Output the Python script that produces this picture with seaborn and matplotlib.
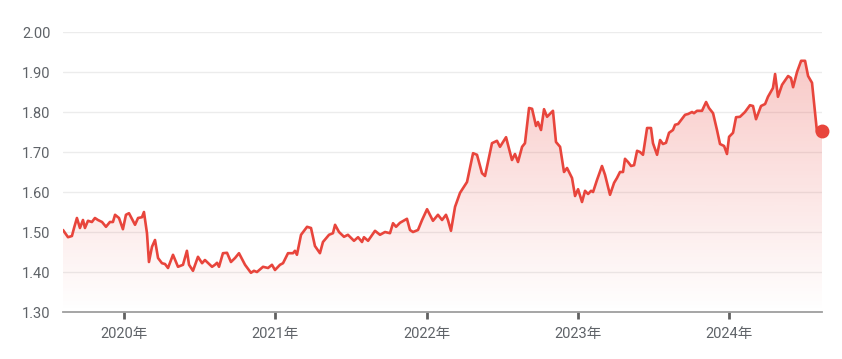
import numpy as np
import pandas as pd
import matplotlib
matplotlib.use("Agg")
import matplotlib.pyplot as plt
import seaborn as sns
from matplotlib.colors import LinearSegmentedColormap

# ---- data (decimal year, value) ----
years = [
    2019.597, 2019.630, 2019.656, 2019.670, 2019.689, 2019.709, 2019.729, 2019.742, 2019.762, 2019.788,
    2019.808, 2019.828, 2019.855, 2019.881, 2019.907, 2019.927, 2019.941, 2019.967, 2019.993, 2020.013,
    2020.033, 2020.073, 2020.093, 2020.119, 2020.132, 2020.152, 2020.165, 2020.185, 2020.205, 2020.225,
    2020.251, 2020.271, 2020.291, 2020.324, 2020.357, 2020.390, 2020.416, 2020.430, 2020.456, 2020.489,
    2020.516, 2020.535, 2020.582, 2020.601, 2020.615, 2020.628, 2020.654, 2020.681, 2020.707, 2020.734,
    2020.760, 2020.800, 2020.839, 2020.859, 2020.879, 2020.919, 2020.952, 2020.978, 2020.998, 2021.031,
    2021.051, 2021.084, 2021.117, 2021.130, 2021.143, 2021.170, 2021.210, 2021.236, 2021.262, 2021.295,
    2021.315, 2021.355, 2021.381, 2021.395, 2021.421, 2021.454, 2021.480, 2021.520, 2021.547, 2021.573,
    2021.586, 2021.613, 2021.659, 2021.692, 2021.725, 2021.758, 2021.778, 2021.798, 2021.824, 2021.870,
    2021.890, 2021.910, 2021.943, 2021.970, 2022.003, 2022.042, 2022.075, 2022.102, 2022.128, 2022.141,
    2022.161, 2022.188, 2022.221, 2022.267, 2022.307, 2022.333, 2022.366, 2022.386, 2022.432, 2022.465,
    2022.485, 2022.525, 2022.564, 2022.584, 2022.604, 2022.631, 2022.650, 2022.677, 2022.697, 2022.723,
    2022.736, 2022.756, 2022.776, 2022.796, 2022.835, 2022.855, 2022.882, 2022.908, 2022.928, 2022.961,
    2022.981, 2023.001, 2023.027, 2023.047, 2023.067, 2023.087, 2023.100, 2023.126, 2023.159, 2023.179,
    2023.212, 2023.239, 2023.258, 2023.278, 2023.298, 2023.311, 2023.331, 2023.351, 2023.371, 2023.391,
    2023.410, 2023.430, 2023.457, 2023.483, 2023.496, 2023.523, 2023.543, 2023.562, 2023.582, 2023.602,
    2023.628, 2023.642, 2023.662, 2023.688, 2023.708, 2023.728, 2023.754, 2023.767, 2023.787, 2023.820,
    2023.847, 2023.866, 2023.893, 2023.919, 2023.939, 2023.966, 2023.985, 2023.999, 2024.025, 2024.045,
    2024.071, 2024.104, 2024.137, 2024.157, 2024.177, 2024.210, 2024.237, 2024.256, 2024.289, 2024.303,
    2024.322, 2024.349, 2024.389, 2024.408, 2024.422, 2024.448, 2024.475, 2024.501, 2024.521, 2024.547,
    2024.580, 2024.613,
]
values = [
    1.505, 1.487, 1.490, 1.510, 1.535, 1.510, 1.530, 1.510, 1.528, 1.525,
    1.535, 1.530, 1.525, 1.513, 1.525, 1.525, 1.543, 1.535, 1.507, 1.543,
    1.547, 1.518, 1.535, 1.537, 1.550, 1.497, 1.425, 1.463, 1.480, 1.435,
    1.422, 1.420, 1.410, 1.443, 1.413, 1.418, 1.453, 1.418, 1.403, 1.438,
    1.422, 1.430, 1.413, 1.418, 1.423, 1.413, 1.447, 1.448, 1.425, 1.435,
    1.447, 1.418, 1.398, 1.403, 1.400, 1.413, 1.410, 1.418, 1.405, 1.418,
    1.422, 1.447, 1.447, 1.453, 1.443, 1.493, 1.513, 1.510, 1.465, 1.447,
    1.475, 1.493, 1.497, 1.518, 1.500, 1.488, 1.493, 1.478, 1.487, 1.475,
    1.487, 1.478, 1.503, 1.493, 1.500, 1.497, 1.522, 1.513, 1.523, 1.533,
    1.505, 1.500, 1.505, 1.530, 1.557, 1.528, 1.543, 1.530, 1.543, 1.530,
    1.503, 1.563, 1.598, 1.625, 1.697, 1.693, 1.647, 1.640, 1.722, 1.728,
    1.713, 1.737, 1.680, 1.695, 1.675, 1.713, 1.722, 1.810, 1.808, 1.765,
    1.775, 1.755, 1.807, 1.788, 1.803, 1.725, 1.713, 1.650, 1.660, 1.635,
    1.590, 1.607, 1.575, 1.603, 1.595, 1.603, 1.600, 1.630, 1.665, 1.643,
    1.593, 1.623, 1.635, 1.650, 1.650, 1.683, 1.675, 1.665, 1.667, 1.703,
    1.700, 1.693, 1.760, 1.760, 1.722, 1.693, 1.730, 1.720, 1.723, 1.748,
    1.755, 1.768, 1.770, 1.783, 1.793, 1.795, 1.800, 1.797, 1.803, 1.803,
    1.825, 1.810, 1.797, 1.755, 1.720, 1.715, 1.695, 1.738, 1.748, 1.787,
    1.788, 1.800, 1.817, 1.815, 1.782, 1.815, 1.820, 1.838, 1.860, 1.895,
    1.838, 1.868, 1.890, 1.885, 1.862, 1.900, 1.928, 1.928, 1.890, 1.873,
    1.750, 1.752,
]
tick_years = [2020, 2021, 2022, 2023, 2024]
tick_labels = ["2020年", "2021年", "2022年", "2023年", "2024年"]
y_ticks = [1.30, 1.40, 1.50, 1.60, 1.70, 1.80, 1.90, 2.00]

df = pd.DataFrame({"year": years, "value": values})

sns.set_theme(style="white")
plt.rcParams["font.family"] = ["Roboto", "Noto Sans CJK SC", "DejaVu Sans"]

LINE = "#e8453c"
TEXT = "#5f6368"

fig = plt.figure(figsize=(8.42, 3.59), dpi=100)
ax = fig.add_axes([63 / 842, 1 - 312 / 359, (822 - 63) / 842, (312 - 32) / 359])

x0, x1 = min(years), max(years)
ymin, ymax = 1.30, 2.00

# gradient fill under the line
poly = ax.fill_between(df["year"], df["value"], ymin, color="none", lw=0)
cmap = LinearSegmentedColormap.from_list(
    "g", [(0.91, 0.27, 0.24, 0.0), (0.91, 0.27, 0.24, 0.32)])
grad = np.linspace(0, 1, 256).reshape(-1, 1)
im = ax.imshow(grad, cmap=cmap, origin="lower", aspect="auto",
               extent=[x0, x1, ymin, ymax], zorder=1, interpolation="bilinear")
path = poly.get_paths()[0]
im.set_clip_path(path, transform=ax.transData)

sns.lineplot(data=df, x="year", y="value", ax=ax, color=LINE, lw=1.9, zorder=3,
             solid_joinstyle="round", solid_capstyle="round")
ax.plot([years[-1]], [values[-1]], "o", color=LINE, ms=9, zorder=4, clip_on=False)

ax.set_xlim(x0, x1)
ax.set_ylim(ymin, ymax)
ax.set_yticks(y_ticks)
ax.set_yticklabels([f"{v:.2f}" for v in y_ticks])
ax.set_xticks(tick_years)
ax.set_xticklabels(tick_labels)
ax.set_xlabel("")
ax.set_ylabel("")

ax.grid(axis="y", color="#ececec", lw=1.0, zorder=0)
ax.set_axisbelow(True)
for s in ["top", "right", "left"]:
    ax.spines[s].set_visible(False)
ax.spines["bottom"].set_color("#9e9e9e")
ax.spines["bottom"].set_linewidth(1.3)
ax.spines["bottom"].set_zorder(5)

ax.tick_params(axis="y", length=0, pad=9, labelsize=10.5, labelcolor=TEXT)
ax.tick_params(axis="x", direction="out", length=5, width=2, color="#616161",
               pad=6, labelsize=10.5, labelcolor=TEXT, bottom=True)

fig.savefig("out.png", dpi=100, facecolor="white")
